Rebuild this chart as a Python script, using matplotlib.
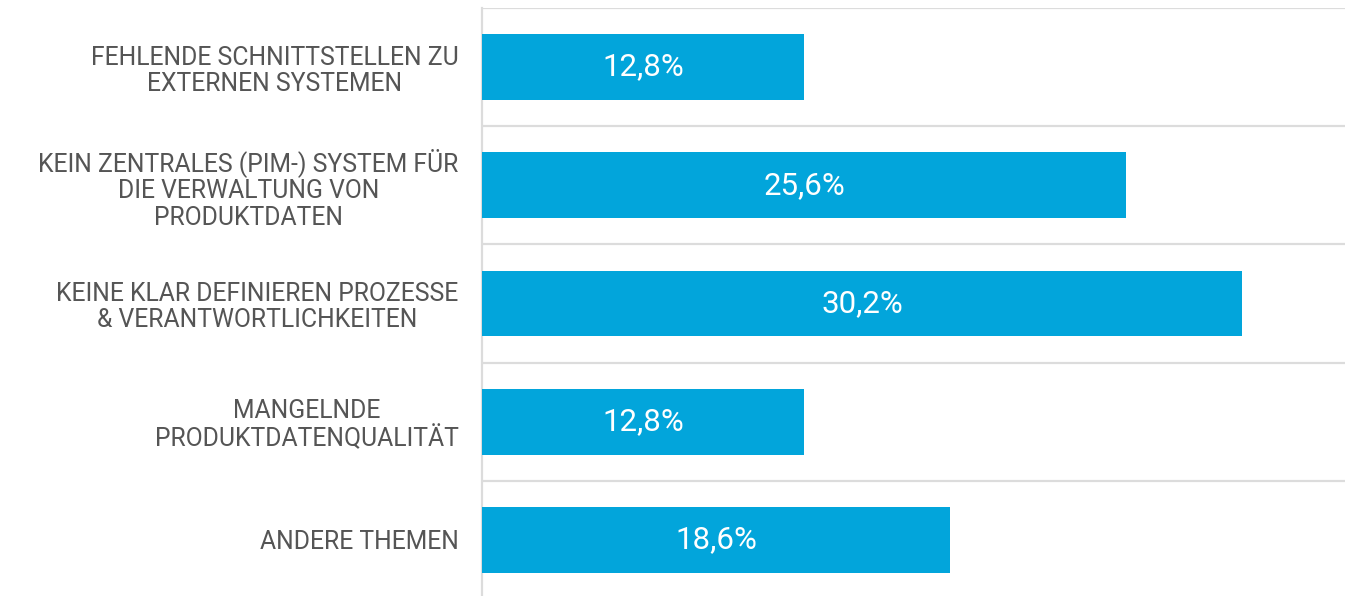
import numpy as np
import matplotlib.pyplot as plt

# Herausforderungen im Produktdatenmanagement
labels = [
    'FEHLENDE SCHNITTSTELLEN ZU\nEXTERNEN SYSTEMEN',
    'KEIN ZENTRALES (PIM-) SYSTEM FÜR\nDIE VERWALTUNG VON\nPRODUKTDATEN',
    'KEINE KLAR DEFINIEREN PROZESSE\n& VERANTWORTLICHKEITEN',
    'MANGELNDE\nPRODUKTDATENQUALITÄT',
    'ANDERE THEMEN',
]
values = [12.8, 25.6, 30.2, 12.8, 18.6]
value_labels = ['12,8%', '25,6%', '30,2%', '12,8%', '18,6%']

bar_color = '#02a5db'
grid_color = '#dcdcdc'
text_color = '#555555'

plt.rcParams['font.family'] = ['Roboto', 'DejaVu Sans']

fig = plt.figure(figsize=(13.45, 5.96), dpi=100)
ax = fig.add_axes([482 / 1345, -3 / 596, 1 - 482 / 1345, 1 - 8 / 596 + 3 / 596])

y = np.arange(len(values))
ax.barh(y, values, height=0.557, color=bar_color, zorder=3)

for yi, v, t in zip(y, values, value_labels):
    ax.text(v / 2, yi, t, ha='center', va='center', color='white',
            fontsize=22.5, zorder=4)

for b in np.arange(-0.5, len(values) + 0.5, 1.0):
    ax.axhline(b, color=grid_color, lw=1.6, zorder=1)

ax.set_xlim(0, 34.3)
ax.set_ylim(len(values) - 0.5, -0.5)

for s in ['top', 'right', 'bottom']:
    ax.spines[s].set_visible(False)
ax.spines['left'].set_color(grid_color)
ax.spines['left'].set_linewidth(1.6)

ax.set_xticks([])
ax.set_yticks(y)
ax.set_yticklabels(labels, fontsize=17.8, color=text_color,
                   multialignment='center', linespacing=1.12)
ax.tick_params(axis='y', length=0, pad=17)

plt.savefig('out.png', dpi=100)
